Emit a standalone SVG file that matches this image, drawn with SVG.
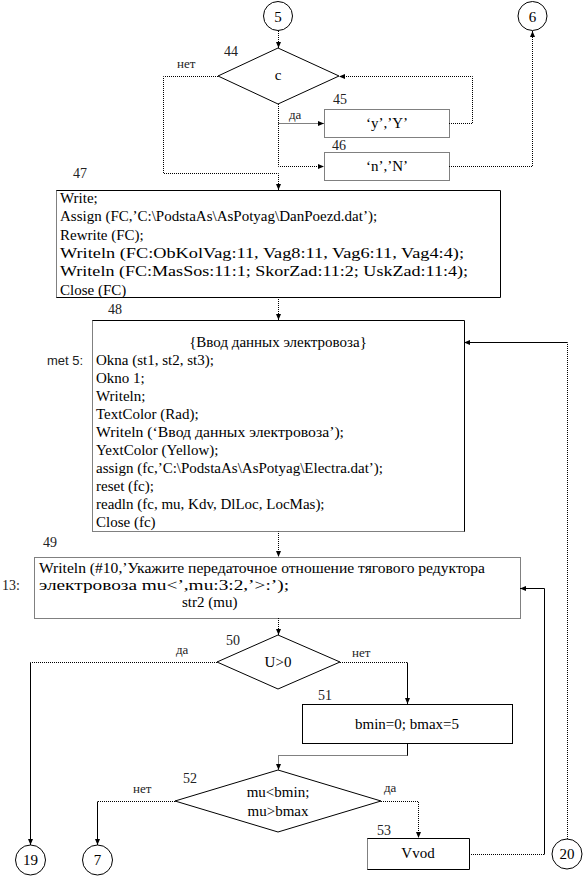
<svg xmlns="http://www.w3.org/2000/svg" width="585" height="876" viewBox="0 0 585 876">
<style>
text{font-family:'Liberation Serif','DejaVu Serif',serif;font-size:15px;fill:#000}
.lbl{font-size:14px;fill:#222}
.yn{font-size:13px;fill:#222}
.sans{font-family:'Liberation Sans','DejaVu Sans',sans-serif;font-size:13px;fill:#222}
.c{text-anchor:middle}
.s{stroke:#000;stroke-width:1;fill:none}
.d{stroke:#000;stroke-width:1;fill:none;stroke-dasharray:1 1}
.n{fill:#fff;stroke:#000;stroke-width:1}
</style>
<defs>
<marker id="ah" viewBox="0 0 6 5" refX="6" refY="2.5" markerWidth="6" markerHeight="5" markerUnits="userSpaceOnUse" orient="auto"><path d="M0,0 L6,2.5 L0,5 z" fill="#000"/></marker>
</defs>
<g id="connectors">
<path class="d" d="M278.5,31 V48" marker-end="url(#ah)"/>
<path class="d" d="M218,76.5 H163.5 V173.5 H278.5 V190" marker-end="url(#ah)"/>
<path class="d" d="M278.5,104 V166.5 H324" marker-end="url(#ah)"/>
<path class="d" d="M278.5,123.5 H324" marker-end="url(#ah)"/>
<path class="d" d="M449,123.5 H472.5 V76.5 H339" marker-end="url(#ah)"/>
<path class="d" d="M449,166.5 H532.5 V31" marker-end="url(#ah)"/>
<path class="d" d="M278.5,297 V320" marker-end="url(#ah)"/>
<path class="d" d="M278.5,531 V557" marker-end="url(#ah)"/>
<path class="d" d="M278.5,618 V635" marker-end="url(#ah)"/>
<path class="d" d="M567.5,839 V342.5"/>
<path class="s" d="M567.5,342.5 H464" marker-end="url(#ah)"/>
<path class="d" d="M469,854.5 H544.5"/>
<path class="s" d="M544.5,854.5 V588.5 H520" marker-end="url(#ah)"/>
<path class="d" d="M217,662.5 H30.5"/>
<path class="s" d="M30.5,662.5 V845" marker-end="url(#ah)"/>
<path class="d" d="M340,662.5 H407.5"/>
<path class="s" d="M407.5,662.5 V704" marker-end="url(#ah)"/>
<path class="s" d="M407.5,743 V755.5"/>
<path class="d" d="M407.5,755.5 H278.5 V770" marker-end="url(#ah)"/>
<path class="d" d="M175,801.5 H97.5"/>
<path class="s" d="M97.5,801.5 V845" marker-end="url(#ah)"/>
<path class="d" d="M381,801.5 H418.5 V838" marker-end="url(#ah)"/>
</g>
<g id="c5"><circle class="n" cx="278" cy="16" r="14.5"/><text class="c" x="278" y="21.5">5</text></g>
<g id="c6"><circle class="n" cx="532.5" cy="16" r="14.5"/><text class="c" x="532.5" y="21.5">6</text></g>
<g id="n44">
<polygon class="n" points="278,48 339,76 278,104 218,76"/>
<text class="c" x="278" y="80">c</text>
<text class="lbl" x="224" y="56">44</text>
<text class="yn" x="177" y="68">нет</text>
<text class="yn" x="289" y="119">да</text>
</g>
<g id="n45">
<rect class="d" x="324.5" y="109.5" width="125" height="28" fill="#fff"/>
<text class="c" x="387" y="128">‘y’,’Y’</text>
<text class="lbl" x="333" y="104">45</text>
</g>
<g id="n46">
<rect class="d" x="324.5" y="152.5" width="125" height="28" fill="#fff"/>
<text class="c" x="387" y="171">‘n’,’N’</text>
<text class="lbl" x="332" y="150">46</text>
</g>
<g id="n47">
<rect x="56.5" y="190.5" width="444" height="107" fill="#fff"/>
<path class="s" d="M56.5,190.5 H500.5 V297.5 H56.5"/>
<path class="d" d="M56.5,190.5 V297.5"/>
<text class="lbl" x="73" y="178">47</text>
<text x="60" y="203">Write;</text>
<text x="60" y="221">Assign (FC,’C:\PodstaAs\AsPotyag\DanPoezd.dat’);</text>
<text x="60" y="240">Rewrite (FC);</text>
<text x="60" y="258" textLength="404" lengthAdjust="spacingAndGlyphs">Writeln (FC:ObKolVag:11, Vag8:11, Vag6:11, Vag4:4);</text>
<text x="60" y="276" textLength="408" lengthAdjust="spacingAndGlyphs">Writeln (FC:MasSos:11:1; SkorZad:11:2; UskZad:11:4);</text>
<text x="60" y="295">Close (FC)</text>
</g>
<g id="n48">
<rect x="92.5" y="320.5" width="372" height="211" fill="#fff"/>
<path class="s" d="M92.5,320.5 H464.5 V531.5"/>
<path class="d" d="M92.5,320.5 V531.5 H464.5"/>
<text class="lbl" x="108" y="314">48</text>
<text class="sans" x="47" y="365">met 5:</text>
<text class="c" x="278" y="347">{Ввод данных электровоза}</text>
<text x="96" y="365">Okna (st1, st2, st3);</text>
<text x="96" y="383">Okno 1;</text>
<text x="96" y="401">Writeln;</text>
<text x="96" y="419">TextColor (Rad);</text>
<text x="96" y="437" textLength="248" lengthAdjust="spacingAndGlyphs">Writeln (‘Ввод данных электровоза’);</text>
<text x="96" y="455">YextColor (Yellow);</text>
<text x="96" y="473">assign (fc,’C:\PodstaAs\AsPotyag\Electra.dat’);</text>
<text x="96" y="491">reset (fc);</text>
<text x="96" y="509">readln (fc, mu, Kdv, DlLoc, LocMas);</text>
<text x="96" y="527">Close (fc)</text>
</g>
<g id="n49">
<rect class="d" x="34.5" y="557.5" width="486" height="61" fill="#fff"/>
<text class="lbl" x="43" y="547">49</text>
<text class="lbl" x="2" y="590">13:</text>
<text x="39" y="573" textLength="446" lengthAdjust="spacingAndGlyphs">Writeln (#10,’Укажите передаточное отношение тягового редуктора</text>
<text x="39" y="590" textLength="250" lengthAdjust="spacingAndGlyphs">электровоза mu&lt;’,mu:3:2,’&gt;:’);</text>
<text x="182" y="607">str2 (mu)</text>
</g>
<g id="n50">
<polygon class="n" points="278,635 340,662 278,689 217,662"/>
<text class="c" x="278" y="667">U&gt;0</text>
<text class="lbl" x="226" y="645">50</text>
<text class="yn" x="176" y="654">да</text>
<text class="yn" x="352" y="657">нет</text>
</g>
<g id="n51">
<rect class="n" x="302.5" y="704.5" width="210" height="39"/>
<text class="c" x="407" y="729">bmin=0; bmax=5</text>
<text class="lbl" x="318" y="700">51</text>
</g>
<g id="n52">
<polygon class="n" points="278,770 381,801 278,832 175,801"/>
<text class="c" x="278" y="797">mu&lt;bmin;</text>
<text class="c" x="278" y="816">mu&gt;bmax</text>
<text class="lbl" x="183" y="783">52</text>
<text class="yn" x="133" y="793">нет</text>
<text class="yn" x="384" y="792">да</text>
</g>
<g id="n53">
<rect x="367.5" y="838.5" width="102" height="31" fill="#fff"/>
<path class="s" d="M367.5,838.5 H469.5 V869.5 H367.5"/>
<path class="d" d="M367.5,838.5 V869.5" stroke-dasharray="3 2"/>
<text class="c" x="418" y="858">Vvod</text>
<text class="lbl" x="377" y="835">53</text>
</g>
<g id="c19"><circle class="n" cx="30.5" cy="860" r="15"/><text class="c" x="30.5" y="865">19</text></g>
<g id="c7"><circle class="n" cx="97.5" cy="860" r="15"/><text class="c" x="97.5" y="865">7</text></g>
<g id="c20"><circle class="n" cx="567" cy="854" r="15"/><text class="c" x="567" y="859">20</text></g>
</svg>
